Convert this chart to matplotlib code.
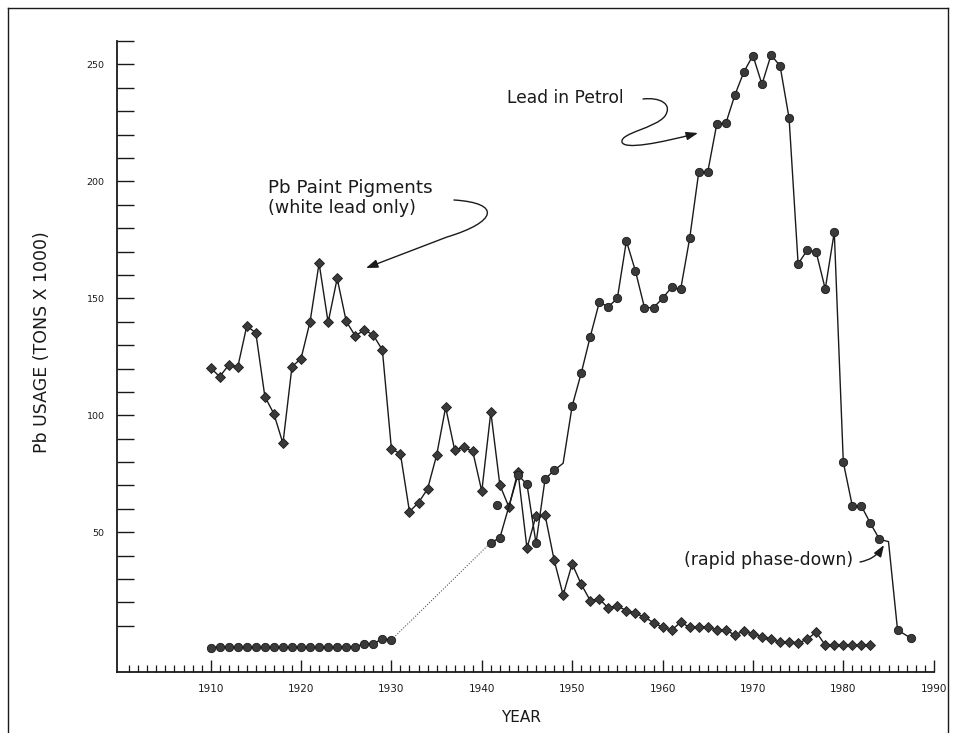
import matplotlib
matplotlib.use('Agg')
import matplotlib.pyplot as plt
import matplotlib.transforms as mtransforms
from matplotlib.path import Path
from matplotlib.patches import FancyArrowPatch
from matplotlib.lines import Line2D
from matplotlib.ticker import FixedLocator

# ---------------- data ----------------
paint_years = list(range(1910, 1984))
paint_vals = [120.3, 116.5, 121.5, 120.6, 138.2, 135.2, 108.0, 100.6, 88.0, 120.8,
              124.2, 140.0, 165.0, 139.7, 158.5, 140.2, 133.9, 136.5, 134.3, 127.9,
              85.7, 83.5, 58.8, 62.7, 68.5, 82.9, 103.4, 85.2, 86.3, 84.6,
              67.5, 101.4, 70.2, 60.8, 75.9, 43.2, 57.0, 57.4, 38.2, 23.2,
              36.5, 27.8, 20.8, 21.5, 17.6, 18.5, 16.5, 15.4, 13.7, 11.4,
              9.4, 8.2, 11.5, 9.4, 9.7, 9.4, 8.2, 8.2, 6.1, 7.8,
              6.5, 5.4, 4.3, 3.0, 3.3, 2.6, 4.3, 7.3, 1.8, 1.8,
              1.8, 1.8, 1.8, 1.8]

petrol_early_years = list(range(1910, 1931))
petrol_early_vals = [0.7, 1.0, 0.8, 0.8, 0.8, 0.8, 0.8, 0.8, 0.8, 0.8,
                     0.8, 0.8, 0.8, 0.8, 0.8, 1.0, 1.0, 2.4, 2.4, 4.4, 4.0]

petrol_gap_years = [1930, 1941]
petrol_gap_vals = [4.0, 45.6]

petrol_late_years = [1941, 1942, 1944, 1945, 1946, 1947, 1948, 1949, 1950, 1951,
                     1952, 1953, 1954, 1955, 1956, 1957, 1958, 1959, 1960, 1961,
                     1962, 1963, 1964, 1965, 1966, 1967, 1968, 1969, 1970, 1971,
                     1972, 1973, 1974, 1975, 1976, 1977, 1978, 1979, 1980, 1981,
                     1982, 1983, 1984, 1985, 1986, 1987.5]
petrol_late_vals = [45.6, 47.6, 74.5, 70.5, 45.3, 72.7, 76.5, 79.5, 104.0, 118.0,
                    133.6, 148.3, 146.4, 150.0, 174.5, 161.7, 146.0, 146.0, 150.0, 154.7,
                    153.8, 175.6, 203.8, 204.0, 224.5, 224.8, 236.9, 246.8, 253.8, 241.5,
                    254.0, 249.4, 227.0, 164.7, 170.6, 169.7, 154.0, 178.3, 79.9, 61.2,
                    61.2, 53.8, 47.0, 46.0, 8.2, 4.7]
petrol_extra_years = [1941.7]
petrol_extra_vals = [61.8]

x_major = list(range(1910, 1991, 10))
x_labels = [str(v) for v in x_major]
y_major = [50, 100, 150, 200, 250]
y_labels = [str(v) for v in y_major]

# ---------------- figure ----------------
W, H = 955, 733
plt.rcParams['font.family'] = ['DejaVu Sans']
fig = plt.figure(figsize=(W / 100, H / 100), dpi=100)
fig.patch.set_facecolor('white')
ax = fig.add_axes([117 / W, 1 - 671.7 / H, (933.7 - 117) / W, (671.7 - 41) / H])
ax.set_facecolor('white')

ink = '#1a1a1a'
face = '#3a3a3a'

ax.plot(paint_years, paint_vals, color=ink, lw=1.0, marker='D', ms=4.9,
        mfc=face, mec=ink, mew=0.6, zorder=3)
ax.plot(petrol_early_years, petrol_early_vals, color=ink, lw=1.0, marker='o', ms=6.0,
        mfc=face, mec=ink, mew=0.6, zorder=3)
ax.plot(petrol_gap_years, petrol_gap_vals, color='#555555', lw=0.8, ls=(0, (1, 1.5)), zorder=2)
hide = {petrol_late_years.index(1949), petrol_late_years.index(1985)}
mk = [i for i in range(len(petrol_late_years)) if i not in hide]
ax.plot(petrol_late_years, petrol_late_vals, color=ink, lw=1.0, marker='o', ms=6.0,
        mfc=face, mec=ink, mew=0.6, markevery=mk, zorder=3)
ax.plot(petrol_extra_years, petrol_extra_vals, ls='none', marker='o', ms=6.0,
        mfc=face, mec=ink, mew=0.6, zorder=3)

ax.set_xlim(1899.64, 1990)
ax.set_ylim(-9.6, 260)
ax.xaxis.set_major_locator(FixedLocator(x_major))
ax.set_xticklabels(x_labels)
ax.xaxis.set_minor_locator(FixedLocator([y for y in range(1901, 1990) if y % 10 != 0]))
ax.yaxis.set_major_locator(FixedLocator(y_major))
ax.set_yticklabels(y_labels)
ax.yaxis.set_minor_locator(FixedLocator([v for v in range(0, 261, 10) if v % 50 != 0]))

ax.tick_params(axis='x', which='major', direction='in', length=9, width=1.0,
               pad=9, labelsize=7.5, colors=ink)
ax.tick_params(axis='x', which='minor', direction='in', length=5, width=0.9, colors=ink)
ax.tick_params(axis='y', which='both', direction='in', length=12.5, width=1.0,
               pad=9, labelsize=6.8, colors=ink)

for s in ['top', 'right']:
    ax.spines[s].set_visible(False)
for s in ['left', 'bottom']:
    ax.spines[s].set_linewidth(1.3)
    ax.spines[s].set_color(ink)

# pixel transform (image coords, y downward)
pix = mtransforms.Affine2D().scale(1, -1).translate(0, H)

fig.text(521, 718, 'YEAR', transform=pix, ha='center', va='center', fontsize=11, color=ink)
fig.text(42, 342, 'Pb USAGE (TONS X 1000)', transform=pix, ha='center', va='center',
         rotation=90, fontsize=12.5, color=ink)

fig.text(507, 98, 'Lead in Petrol', transform=pix, ha='left', va='center', fontsize=12.3, color=ink)
fig.text(268, 188, 'Pb Paint Pigments', transform=pix, ha='left', va='center', fontsize=13.2, color=ink)
fig.text(268, 208, '(white lead only)', transform=pix, ha='left', va='center', fontsize=12.6, color=ink)
fig.text(684, 560, '(rapid phase-down)', transform=pix, ha='left', va='center', fontsize=12.4, color=ink)

C4 = Path.CURVE4
curl = Path([(643, 99), (660, 97), (673, 104), (665, 116),
             (656, 128), (620, 133), (622, 142),
             (624, 150), (660, 143), (698, 133)],
            [Path.MOVETO, C4, C4, C4, C4, C4, C4, C4, C4, C4])
paint_arrow = Path([(454, 200), (502, 203), (497, 222), (447, 237), (366, 268)],
                   [Path.MOVETO, C4, C4, C4, Path.LINETO])
phase_arrow = Path([(860, 562), (870, 560), (877, 556), (884, 545)],
                   [Path.MOVETO, C4, C4, C4])
for p in [curl, paint_arrow, phase_arrow]:
    fig.add_artist(FancyArrowPatch(path=p, transform=pix, arrowstyle='-|>,head_length=0.7,head_width=0.25',
                                   mutation_scale=10, color=ink, lw=1.0))

# page border
for xs, ys in [([8, 8], [8, 733]), ([8, 948], [8, 8]), ([948, 948], [8, 733])]:
    fig.add_artist(Line2D(xs, ys, transform=pix, color=ink, lw=1.0))

fig.savefig('out.png', dpi=100, facecolor='white')
